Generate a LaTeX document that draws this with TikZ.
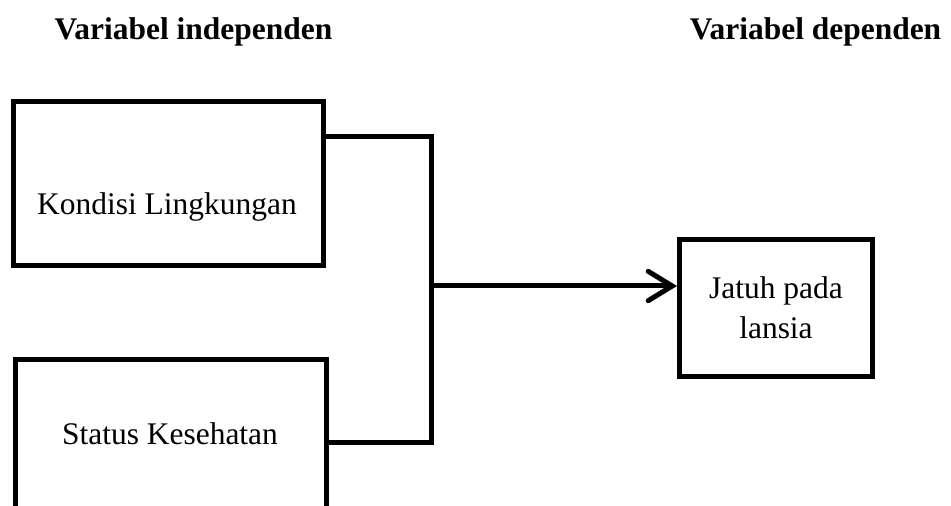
\documentclass[tikz,border=0pt]{standalone}
\usepackage{fontspec}
\setmainfont{Liberation Serif}
\usetikzlibrary{arrows.meta}

\tikzset{
  varbox/.style={draw, line width=3.75pt, inner sep=0pt, align=center},
  link/.style={line width=3.75pt},
  heading/.style={font=\fontsize{23.6pt}{30pt}\selectfont\bfseries, anchor=base}
}

\begin{document}
\begin{tikzpicture}[x=0.75pt, y=-0.75pt, font=\fontsize{23.6pt}{30pt}\selectfont]
\clip (0,0) rectangle (951,506);

% Headings
\node[heading] (indep) at (193.5,40) {Variabel independen};
\node[heading] (dep) at (815.5,40) {Variabel dependen};

% Independent variables
\node[varbox, minimum width=232.5pt, minimum height=123pt] (kondisi) at (168.5,183.5) {};
\node[anchor=base] (kondisitext) at (167,215) {Kondisi Lingkungan};
\node[varbox, minimum width=233.25pt, minimum height=150pt] (status) at (171,459.5) {};
\node[anchor=base] (statustext) at (170,445) {Status Kesehatan};

% Dependent variable
\node[varbox, minimum width=144.75pt, minimum height=102.75pt] (jatuh) at (776,308) {Jatuh pada\\lansia};

% Connectors
\coordinate (bustop) at (431.5,137);
\coordinate (busbottom) at (431.5,442.5);
\coordinate (busout) at (431.5,286);
\draw[link] (bustop -| kondisi.east) -- (bustop) -- (busbottom) -- (busbottom -| status.east);
\draw[link, -{Straight Barb[length=18pt, width=22pt, line cap=round]}] (busout) -- (busout -| jatuh.west);
\end{tikzpicture}
\end{document}
